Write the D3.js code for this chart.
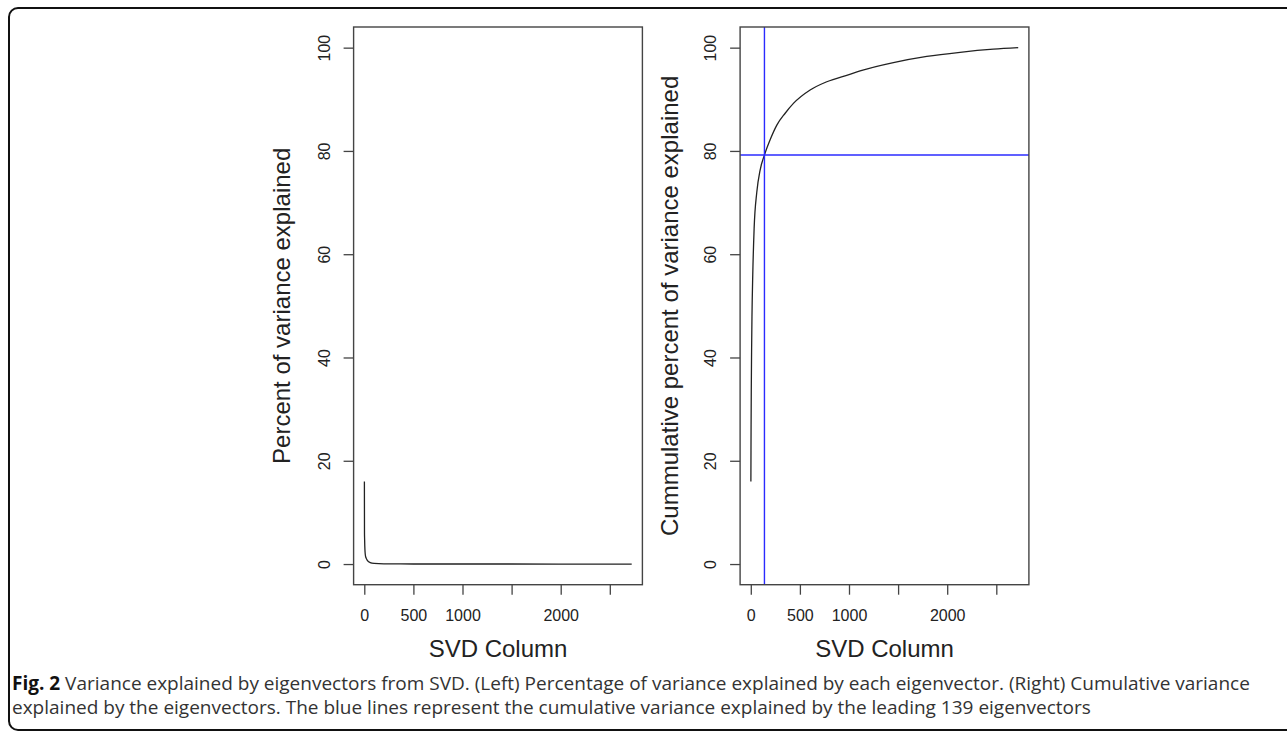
<html>
<head>
<meta charset="utf-8">
<title>Variance explained</title>
<script src="https://d3js.org/d3.v7.min.js"></script>
<style>
  body { margin: 0; background: #fff; }
  .axis-label { font-family: "Liberation Sans", Arial, sans-serif; font-size: 24px; fill: #222; }
  .tick-label { font-family: "Liberation Sans", Arial, sans-serif; font-size: 16px; fill: #222; }
  .caption { font-family: "Open Sans", sans-serif; font-size: 19px; fill: #333; }
</style>
</head>
<body>
<div id="chart"></div>
<script>
// values
const percentCols = [1, 2, 3, 5, 8, 12, 20, 35, 60, 100, 200, 500, 1000, 2000, 2723];
const percentVals = [16, 6, 5, 3.5, 2.3, 1.6, 1.1, 0.6, 0.28, 0.12, 0.04, 0.012, 0.006, 0.003, 0.001];

const cumCols = [1, 2, 3, 5, 8, 12, 20, 34, 61, 95, 139, 200, 265, 350, 434, 604, 774, 1000, 1113, 1452, 1792, 2131, 2470, 2723];
const cumVals = [16, 22, 27, 34, 41, 48, 56, 65, 72, 76.3, 79.2, 82.3, 85.0, 87.3, 89.2, 91.8, 93.4, 94.8, 95.5, 97.1, 98.3, 99.1, 99.7, 100];

const leadingCols = 139;
const leadingCum = 79.2;

const xTicks = [0, 500, 1000, 1500, 2000, 2500];
const xTickLabels = ["0", "500", "1000", "", "2000", ""];
const yTicks = [0, 20, 40, 60, 80, 100];

const W = 1287, H = 731;
const svg = d3.select("#chart").append("svg").attr("width", W).attr("height", H);

// frame
svg.append("rect")
  .attr("x", 9).attr("y", 8).attr("width", 1300).attr("height", 722)
  .attr("rx", 9).attr("ry", 9)
  .attr("fill", "none").attr("stroke", "#111").attr("stroke-width", 2);

const plotTop = 27, plotBottom = 584.7, plotW = 288.8;
const y = d3.scaleLinear().domain([-4, 104]).range([plotBottom, plotTop]);
const xExt = [-108.9, 2831.9];

function panel(left, cols, vals, yTitle, titleX) {
  const x = d3.scaleLinear().domain(xExt).range([left, left + plotW]);
  const g = svg.append("g");

  const line = d3.line().x((d, i) => x(cols[i])).y(d => y(d)).curve(d3.curveMonotoneX);
  g.append("path").datum(vals)
    .attr("d", line).attr("fill", "none").attr("stroke", "#222").attr("stroke-width", 1.3);

  // x axis
  const xa = g.append("g").attr("transform", "translate(0," + plotBottom + ")")
    .call(d3.axisBottom(x).tickValues(xTicks).tickSize(10).tickFormat((d, i) => xTickLabels[i]));
  xa.select(".domain").remove();
  xa.selectAll("line").attr("stroke", "#444").attr("stroke-width", 1.3);
  xa.selectAll("text").attr("class", "tick-label").attr("dy", null).attr("y", 36);
  xa.attr("font-size", null).attr("font-family", null);

  // y axis with rotated labels
  const ya = g.append("g").attr("transform", "translate(" + left + ",0)")
    .call(d3.axisLeft(y).tickValues(yTicks).tickSize(10));
  ya.select(".domain").remove();
  ya.attr("font-size", null).attr("font-family", null);
  ya.selectAll("line").attr("stroke", "#444").attr("stroke-width", 1.3);
  ya.selectAll(".tick text")
    .attr("class", "tick-label")
    .attr("x", null).attr("dy", null)
    .attr("transform", "translate(-24,0) rotate(-90)")
    .attr("text-anchor", "middle");

  g.append("text").attr("class", "axis-label")
    .attr("transform", "translate(" + titleX + "," + ((plotTop + plotBottom) / 2) + ") rotate(-90)")
    .attr("text-anchor", "middle").text(yTitle);

  g.append("text").attr("class", "axis-label")
    .attr("x", left + plotW / 2).attr("y", 657).attr("text-anchor", "middle").text("SVD Column");

  return { g, x };
}

panel(353.6, percentCols, percentVals, "Percent of variance explained", 290);
const right = panel(740.1, cumCols, cumVals, "Cummulative percent of variance explained", 677.5);

// blue reference lines
right.g.append("line")
  .attr("x1", right.x(leadingCols)).attr("x2", right.x(leadingCols))
  .attr("y1", plotTop).attr("y2", plotBottom)
  .attr("stroke", "#2b2bff").attr("stroke-width", 1.4);
right.g.append("line")
  .attr("x1", 740.1).attr("x2", 740.1 + plotW)
  .attr("y1", y(leadingCum)).attr("y2", y(leadingCum))
  .attr("stroke", "#2b2bff").attr("stroke-width", 1.4);

// boxes
[353.6, 740.1].forEach(l => {
  svg.append("rect").attr("x", l).attr("y", plotTop).attr("width", plotW).attr("height", plotBottom - plotTop)
    .attr("fill", "none").attr("stroke", "#444").attr("stroke-width", 1.4);
});

// caption
const cap1 = svg.append("text").attr("class", "caption").attr("x", 12).attr("y", 690);
cap1.append("tspan").attr("font-weight", "bold").attr("fill", "#111").text("Fig. 2");
cap1.append("tspan").text(" Variance explained by eigenvectors from SVD. (Left) Percentage of variance explained by each eigenvector. (Right) Cumulative variance");
svg.append("text").attr("class", "caption").attr("x", 12).attr("y", 714)
  .text("explained by the eigenvectors. The blue lines represent the cumulative variance explained by the leading 139 eigenvectors");
</script>
</body>
</html>
